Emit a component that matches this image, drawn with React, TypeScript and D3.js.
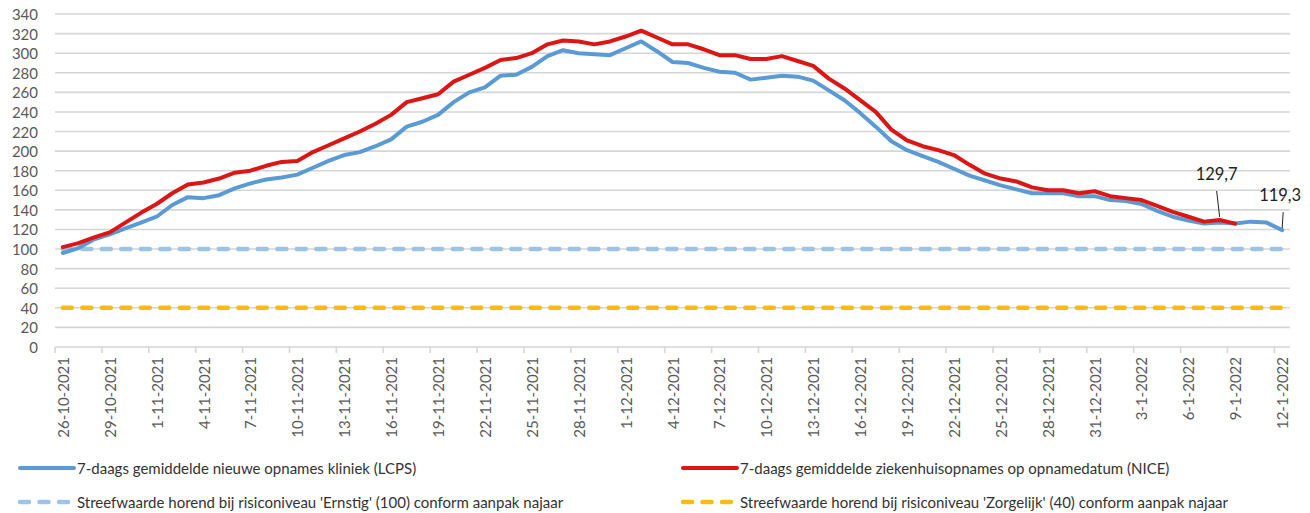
import React from 'react';
import * as d3 from 'd3';

// categorieen: elke dag van 26-10-2021 t/m 12-1-2022
const fmtDate = d3.timeFormat('%-d-%-m-%Y');
const categories: string[] = d3
  .timeDay.range(new Date(2021, 9, 26), new Date(2022, 0, 13))
  .map(fmtDate);

// om de 3 dagen een label op de x-as
const tickLabels = categories.filter((_, i) => i % 3 === 0);

const yTicks = [0, 20, 40, 60, 80, 100, 120, 140, 160, 180, 200, 220, 240, 260, 280, 300, 320, 340];

// 7-daags gemiddelde nieuwe opnames kliniek (LCPS)
const lcps = [
  96, 101, 110, 115, 121, 127, 133, 145, 153, 152,
  155, 162, 167, 171, 173, 176, 183, 190, 196, 199,
  205, 212, 225, 230, 237, 250, 260, 265, 277, 278,
  286, 297, 303, 300, 299, 298, 305, 312, 302, 291,
  290, 285, 281, 280, 273, 275, 277, 276, 272, 262,
  252, 239, 225, 210, 201, 195, 189, 182, 175, 170,
  165, 161, 157, 157, 157, 154, 154, 150, 149, 146,
  139, 133, 129, 126, 127, 126, 128, 127, 119.3,
];

// 7-daags gemiddelde ziekenhuisopnames op opnamedatum (NICE)
const nice = [
  102, 106, 112, 117, 127, 137, 146, 157, 166, 168,
  172, 178, 180, 185, 189, 190, 199, 206, 213, 220,
  228, 237, 250, 254, 258, 271, 278, 285, 293, 295,
  300, 309, 313, 312, 309, 312, 317, 323, 316, 309,
  309, 304, 298, 298, 294, 294, 297, 292, 287, 274,
  264, 252, 240, 222, 211, 205, 201, 196, 186, 177,
  172, 169, 163, 160, 160, 157, 159, 154, 152, 150,
  144, 138, 133, 128, 129.7, 126,
];

// streefwaarden aanpak najaar
const ernstig = categories.map(() => 100);
const zorgelijk = categories.map(() => 40);

const DASH = '9 10.5';

const legendItems = [
  { label: '7-daags gemiddelde nieuwe opnames kliniek (LCPS)', color: '#5b9bd5', dash: null, col: 0, row: 0 },
  { label: '7-daags gemiddelde ziekenhuisopnames op opnamedatum (NICE)', color: '#dc1515', dash: null, col: 1, row: 0 },
  { label: "Streefwaarde horend bij risiconiveau 'Ernstig' (100) conform aanpak najaar", color: '#9dc3e6', dash: DASH, col: 0, row: 1 },
  { label: "Streefwaarde horend bij risiconiveau 'Zorgelijk' (40) conform aanpak najaar", color: '#f7bb14', dash: DASH, col: 1, row: 1 },
];

const W = 1310;
const H = 513;
const FONT = 'Lato, "Open Sans", sans-serif';

export default function App() {
  const x = d3.scaleBand<string>().domain(categories).range([55, 1290]).padding(0);
  const bw = x.bandwidth();
  const xc = (i: number) => (x(categories[i]) as number) + bw / 2;
  const y = d3.scaleLinear().domain([0, 340]).range([347, 14]);

  const line = d3
    .line<number>()
    .x((_, i) => xc(i))
    .y((d) => y(d));

  const axisTicks = categories.filter((_, i) => i % 3 === 0).map((c) => x(c) as number);

  const lastNice = nice.length - 2; // 129,7 label
  const lastLcps = lcps.length - 1; // 119,3 label

  return (
    <svg
      width={W}
      height={H}
      style={{ position: 'absolute', left: 0, top: 0, background: '#fff' }}
      fontFamily={FONT}
    >
      {/* rasterlijnen */}
      {yTicks.map((t) => (
        <line key={t} x1={55} x2={1290} y1={y(t)} y2={y(t)} stroke="#d6d6d6" strokeWidth={1.6} />
      ))}
      {axisTicks.map((tx, i) => (
        <line key={i} x1={tx} x2={tx} y1={y(0)} y2={y(0) + 6} stroke="#d6d6d6" strokeWidth={1.6} />
      ))}

      {/* y-as labels */}
      {yTicks.map((t) => (
        <text key={t} x={38} y={y(t)} textAnchor="end" dominantBaseline="central" fontSize={15} fill="#595959">
          {t}
        </text>
      ))}

      {/* x-as labels */}
      {tickLabels.map((lab) => {
        const cx = (x(lab) as number) + bw / 2;
        return (
          <text
            key={lab}
            transform={`translate(${cx},${y(0) + 10}) rotate(-90)`}
            textAnchor="end"
            dominantBaseline="central"
            fontSize={15}
            fill="#595959"
          >
            {lab}
          </text>
        );
      })}

      {/* streefwaarden */}
      <path d={line(zorgelijk) || ''} fill="none" stroke="#f7bb14" strokeWidth={4.5} strokeDasharray={DASH} strokeLinecap="round" />
      <path d={line(ernstig) || ''} fill="none" stroke="#9dc3e6" strokeWidth={4.5} strokeDasharray={DASH} strokeLinecap="round" />

      {/* reeksen */}
      <path d={line(lcps) || ''} fill="none" stroke="#5b9bd5" strokeWidth={4} strokeLinejoin="round" strokeLinecap="round" />
      <path d={line(nice) || ''} fill="none" stroke="#dc1515" strokeWidth={4} strokeLinejoin="round" strokeLinecap="round" />

      {/* gegevenslabels */}
      <line x1={xc(lastNice) - 3} x2={xc(lastNice)} y1={y(nice[lastNice]) - 29} y2={y(nice[lastNice]) - 3} stroke="#222" strokeWidth={1} />
      <text x={xc(lastNice) - 3} y={y(nice[lastNice]) - 40} textAnchor="middle" fontSize={16.5} fill="#222">
        {String(nice[lastNice]).replace('.', ',')}
      </text>
      <line x1={xc(lastLcps) + 1} x2={xc(lastLcps)} y1={y(lcps[lastLcps]) - 18} y2={y(lcps[lastLcps]) - 2} stroke="#222" strokeWidth={1} />
      <text x={xc(lastLcps) - 2} y={y(lcps[lastLcps]) - 29} textAnchor="middle" fontSize={16.5} fill="#222">
        {String(lcps[lastLcps]).replace('.', ',')}
      </text>

      {/* legenda */}
      {legendItems.map((it) => {
        const lx = it.col === 0 ? 20 : 683;
        const ly = it.row === 0 ? 468 : 502;
        return (
          <g key={it.label}>
            <line
              x1={lx}
              x2={lx + 54}
              y1={ly}
              y2={ly}
              stroke={it.color}
              strokeWidth={it.dash ? 4.5 : 4}
              strokeDasharray={it.dash || undefined}
              strokeLinecap="round"
            />
            <text x={lx + 57} y={ly} dominantBaseline="central" fontSize={15} fill="#333">
              {it.label}
            </text>
          </g>
        );
      })}
    </svg>
  );
}
